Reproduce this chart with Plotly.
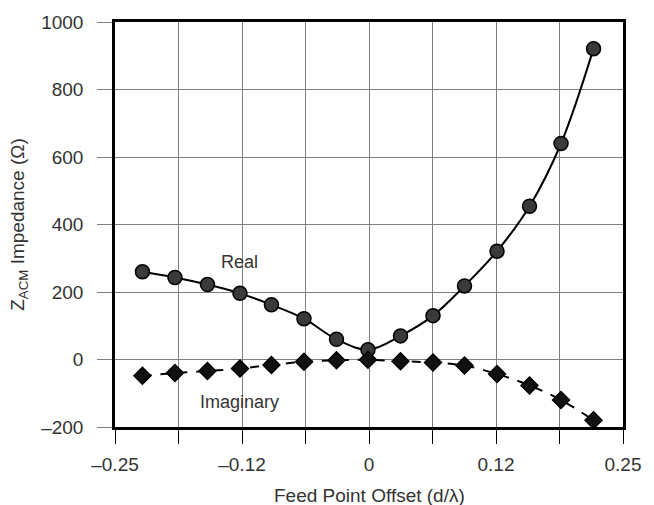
import plotly.graph_objects as go

# Feed point offset in wavelengths (d/λ)
offset = [-0.223, -0.191, -0.159, -0.127, -0.096, -0.064, -0.032, -0.001,
          0.031, 0.063, 0.094, 0.126, 0.158, 0.189, 0.221]

# Z_ACM impedance components (Ω)
real_part = [260, 243, 222, 196, 162, 121, 60, 29,
             70, 130, 218, 321, 454, 640, 921]
imag_part = [-48, -40, -34, -27, -16, -7, -2, -1,
             -5, -9, -18, -43, -77, -120, -180]

x_tickvals = [-0.25, -0.1875, -0.125, -0.0625, 0, 0.0625, 0.125, 0.1875, 0.25]
x_ticktext = ["–0.25", "", "–0.12", "", "0", "", "0.12", "", "0.25"]
y_tickvals = [-200, 0, 200, 400, 600, 800, 1000]
y_ticktext = ["–200", "0", "200", "400", "600", "800", "1000"]

font_family = "Liberation Sans, Arial, sans-serif"
text_color = "#333333"

fig = go.Figure()

fig.add_trace(go.Scatter(
    x=offset, y=real_part, mode="lines+markers",
    line=dict(color="black", width=2, shape="spline"),
    marker=dict(symbol="circle", size=14, color="#3a3a3a",
                line=dict(color="black", width=1.5)),
    cliponaxis=False, showlegend=False,
))

fig.add_trace(go.Scatter(
    x=offset, y=imag_part, mode="lines+markers",
    line=dict(color="black", width=2, dash="dash", shape="spline"),
    marker=dict(symbol="diamond", size=13, color="#111111",
                line=dict(color="black", width=1.5)),
    cliponaxis=False, showlegend=False,
))

fig.add_annotation(x=-0.127, y=290, text="Real", showarrow=False,
                   font=dict(family=font_family, size=18, color=text_color))
fig.add_annotation(x=-0.127, y=-125, text="Imaginary", showarrow=False,
                   font=dict(family=font_family, size=18, color=text_color))

# x-axis title placed below the tick labels
fig.add_annotation(xref="paper", yref="paper", x=0.5, y=0, yshift=-68,
                   yanchor="middle", text="Feed Point Offset (d/λ)", showarrow=False,
                   font=dict(family=font_family, size=19, color=text_color))

fig.update_xaxes(
    range=[-0.25, 0.25], tickmode="array", tickvals=x_tickvals, ticktext=x_ticktext,
    showgrid=True, gridcolor="#808080", gridwidth=1,
    showline=True, linecolor="black", linewidth=2.5, mirror=True,
    ticks="outside", ticklen=14, tickcolor="black", tickwidth=1,
    ticklabelstandoff=4,
    zeroline=False, automargin=False,
    tickfont=dict(family=font_family, size=19, color=text_color),
)
fig.update_yaxes(
    range=[-200, 1000], tickmode="array", tickvals=y_tickvals, ticktext=y_ticktext,
    showgrid=True, gridcolor="#808080", gridwidth=1,
    showline=True, linecolor="black", linewidth=2.5, mirror=True,
    ticks="outside", ticklen=15, tickcolor="#808080", tickwidth=1,
    ticklabelstandoff=10,
    zeroline=False,
    tickfont=dict(family=font_family, size=19, color=text_color),
    title=dict(text="Z<sub>ACM</sub> Impedance (Ω)", standoff=12,
               font=dict(family=font_family, size=19, color=text_color)),
)

fig.update_layout(
    width=654, height=505,
    margin=dict(l=115, r=31, t=20, b=78),
    plot_bgcolor="white", paper_bgcolor="white",
)

fig.write_html("out.html")
